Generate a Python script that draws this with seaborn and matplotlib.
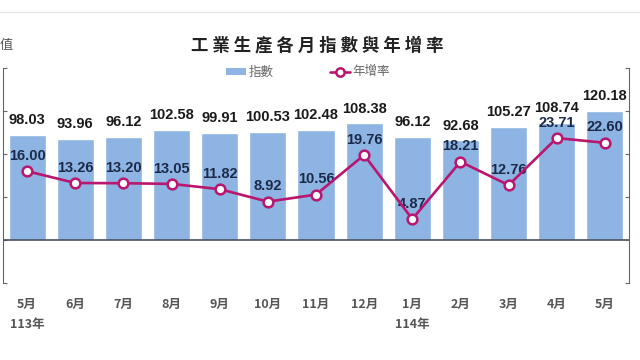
import numpy as np
import pandas as pd
import matplotlib.pyplot as plt
import seaborn as sns
from matplotlib.patches import Patch
from matplotlib.lines import Line2D

months = ['5月', '6月', '7月', '8月', '9月', '10月', '11月', '12月',
          '1月', '2月', '3月', '4月', '5月']
index_vals = [98.03, 93.96, 96.12, 102.58, 99.91, 100.53, 102.48, 108.38,
              96.12, 92.68, 105.27, 108.74, 120.18]
yoy_vals = [16.00, 13.26, 13.20, 13.05, 11.82, 8.92, 10.56, 19.76,
            4.87, 18.21, 12.76, 23.71, 22.60]
year_labels = {0: '113年', 8: '114年'}

bar_color = '#8db4e2'
line_color = '#b8166f'

sns.set_style('white')
plt.rcParams['font.family'] = ['Noto Sans CJK TC', 'DejaVu Sans']
num_font = ['Liberation Sans Narrow', 'Liberation Sans', 'DejaVu Sans']

df = pd.DataFrame({'pos': np.arange(len(months)), 'index': index_vals,
                   'yoy': yoy_vals})

fig = plt.figure(figsize=(6.4, 3.6), dpi=100)
ax = fig.add_axes([3 / 640, 1 - 283 / 360, 626 / 640, 215 / 360])

sns.barplot(data=df, x='pos', y='index', color=bar_color, width=0.77,
            saturation=1, ax=ax)
ax.set_ylim(-40, 160)
ax.set_xlim(-0.5, len(months) - 0.5)
ax.axhline(0, color='#4a5060', lw=1.2, zorder=3)
ax.bar_label(ax.containers[0], fmt='%.2f', padding=5.5, fontsize=10.5,
             fontweight='bold', color='#1a1a1a', family=num_font)

ax.set_xticks(range(len(months)))
ax.set_xticklabels(months, fontsize=9, fontweight='bold', color='#555555')
ax.tick_params(axis='x', length=0, pad=11)
ax.set_yticks([-40, 0, 40, 80, 120, 160])
ax.set_yticklabels([])
ax.tick_params(axis='y', direction='in', length=3, color='#666666')
ax.set_xlabel('')
ax.set_ylabel('')
for side in ['top', 'bottom', 'right']:
    ax.spines[side].set_visible(False)
ax.spines['left'].set_color('#666666')

for i, lab in year_labels.items():
    ax.text(i, -0.195, lab, transform=ax.get_xaxis_transform(),
            ha='center', va='center', fontsize=9, fontweight='bold',
            color='#555555')

ax2 = ax.twinx()
sns.lineplot(data=df, x='pos', y='yoy', ax=ax2, color=line_color, lw=1.9,
             marker='o', markersize=7, markerfacecolor='white',
             markeredgecolor=line_color, markeredgewidth=1.8, zorder=4)
ax2.set_ylim(-10, 40)
ax2.set_yticks([-10, 0, 10, 20, 30, 40])
ax2.set_yticklabels([])
ax2.tick_params(axis='y', direction='in', length=3, color='#666666')
ax2.set_ylabel('')
for side in ['top', 'bottom', 'left']:
    ax2.spines[side].set_visible(False)
ax2.spines['right'].set_color('#666666')
for x, y in zip(df['pos'], df['yoy']):
    ax2.annotate(f'{y:.2f}', (x, y), xytext=(0, 6), textcoords='offset points',
                 ha='center', va='bottom', fontsize=10.5, fontweight='bold',
                 color='#1b2a4a', family=num_font)

fig.text(0.495, 1 - 45 / 360, '工 業 生 產 各 月 指 數 與 年 增 率',
         ha='center', va='center', fontsize=12.5, fontweight='bold',
         color='#222222')
fig.text(0.0, 1 - 45 / 360, '值', ha='left', va='center', fontsize=9.5,
         color='#555555')
fig.add_artist(Line2D([0, 1], [1 - 12 / 360, 1 - 12 / 360], color='#e6e6e6',
                      lw=1, transform=fig.transFigure))

handles = [Patch(facecolor=bar_color, edgecolor='none', label='指數'),
           Line2D([], [], color=line_color, lw=1.9, marker='o', markersize=6,
                  markerfacecolor='white', markeredgecolor=line_color,
                  markeredgewidth=1.8, label='年增率')]
leg = fig.legend(handles=handles, loc='center', ncol=2, frameon=False,
                 bbox_to_anchor=(308 / 640, 1 - 72 / 360), fontsize=9,
                 handlelength=1.6, handleheight=0.5, handletextpad=0.2,
                 columnspacing=4.5)
for t in leg.get_texts():
    t.set_color('#666666')

fig.savefig('out.png', dpi=100)
